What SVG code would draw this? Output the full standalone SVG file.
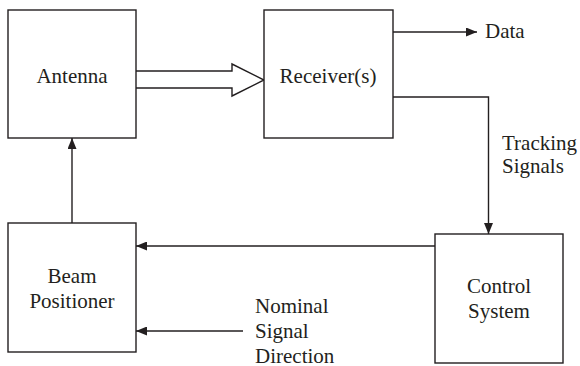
<svg xmlns="http://www.w3.org/2000/svg" width="580" height="366" viewBox="0 0 580 366">
<style>
.box{fill:#fff;stroke:#231f20;stroke-width:1.4}
.ln{fill:none;stroke:#231f20;stroke-width:1.4}
text{font-family:'Liberation Serif','Times New Roman','DejaVu Serif',serif;font-size:21px;fill:#231f20}
.c{text-anchor:middle}
</style>
<defs>
<marker id="ah" viewBox="0 0 11 9" refX="11" refY="4.5" markerWidth="11" markerHeight="9" markerUnits="userSpaceOnUse" orient="auto">
<path d="M0,0 L11,4.5 L0,9 Z" fill="#231f20"/>
</marker>
</defs>
<rect width="580" height="366" fill="#fff"/>
<g id="connectors">
<path class="ln" d="M136,71 H232 V64 L264,80 L232,96 V88 H136"/>
<path class="ln" d="M72,223 V138" marker-end="url(#ah)"/>
<path class="ln" d="M393,32 H477" marker-end="url(#ah)"/>
<path class="ln" d="M393,97 H488.5 V234" marker-end="url(#ah)"/>
<path class="ln" d="M435,246 H136" marker-end="url(#ah)"/>
<path class="ln" d="M243,331 H136" marker-end="url(#ah)"/>
</g>
<g id="antenna">
<rect class="box" x="8" y="10" width="128" height="128"/>
<text class="c" x="72" y="83">Antenna</text>
</g>
<g id="receiver">
<rect class="box" x="264" y="10" width="129" height="128"/>
<text class="c" x="328" y="83">Receiver(s)</text>
</g>
<g id="data">
<text x="485" y="38">Data</text>
</g>
<g id="tracking">
<text x="502" y="150">Tracking</text>
<text x="502" y="173">Signals</text>
</g>
<g id="control">
<rect class="box" x="435" y="234" width="128" height="129"/>
<text class="c" x="499" y="293">Control</text>
<text class="c" x="499" y="318">System</text>
</g>
<g id="beam">
<rect class="box" x="8" y="223" width="128" height="129"/>
<text class="c" x="72" y="283">Beam</text>
<text class="c" x="72" y="308">Positioner</text>
</g>
<g id="nominal">
<text x="255" y="313">Nominal</text>
<text x="255" y="338">Signal</text>
<text x="255" y="363">Direction</text>
</g>
</svg>
